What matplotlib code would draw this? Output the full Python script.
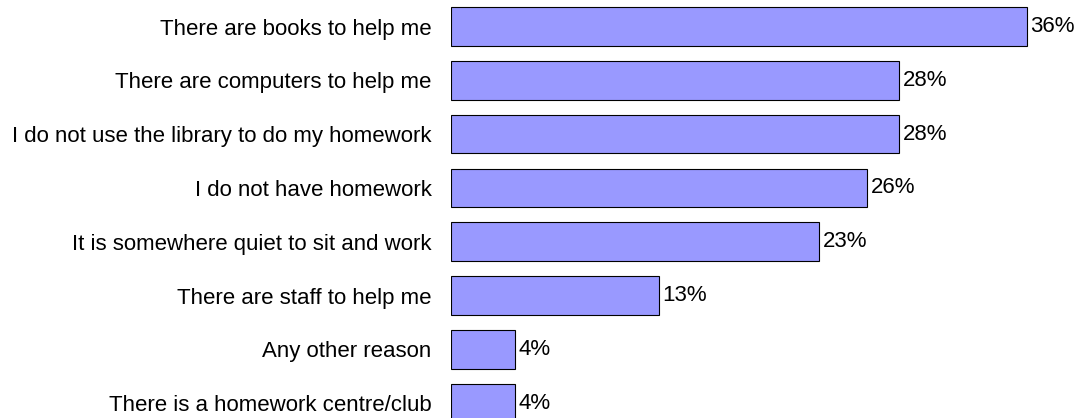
import matplotlib.pyplot as plt

plt.rcParams['font.family'] = ['Liberation Sans', 'DejaVu Sans']

reasons = ["There are books to help me",
           "There are computers to help me",
           "I do not use the library to do my homework",
           "I do not have homework",
           "It is somewhere quiet to sit and work",
           "There are staff to help me",
           "Any other reason",
           "There is a homework centre/club"]
percent = [36, 28, 28, 26, 23, 13, 4, 4]

fig = plt.figure(figsize=(10.78, 4.18), dpi=100)
ax = fig.add_axes([450.5 / 1078, 0, 627.5 / 1078, 1])

pos = range(len(reasons))
ax.barh(pos, percent, height=0.72, left=0, color="#9999ff",
        edgecolor="black", linewidth=0.8)

for i, v in zip(pos, percent):
    ax.text(v + 0.25, i, f"{v}%", va="center", ha="left", fontsize=16)

ax.set_yticks(list(pos))
ax.set_yticklabels(reasons, fontsize=16)
ax.tick_params(axis="y", length=0, pad=13.5)
ax.set_xticks([])
ax.set_xlim(0, 36 * 627.5 / 576)
ax.set_ylim(7.277, -0.493)
for s in ax.spines.values():
    s.set_visible(False)

fig.savefig("out.png", dpi=100)
